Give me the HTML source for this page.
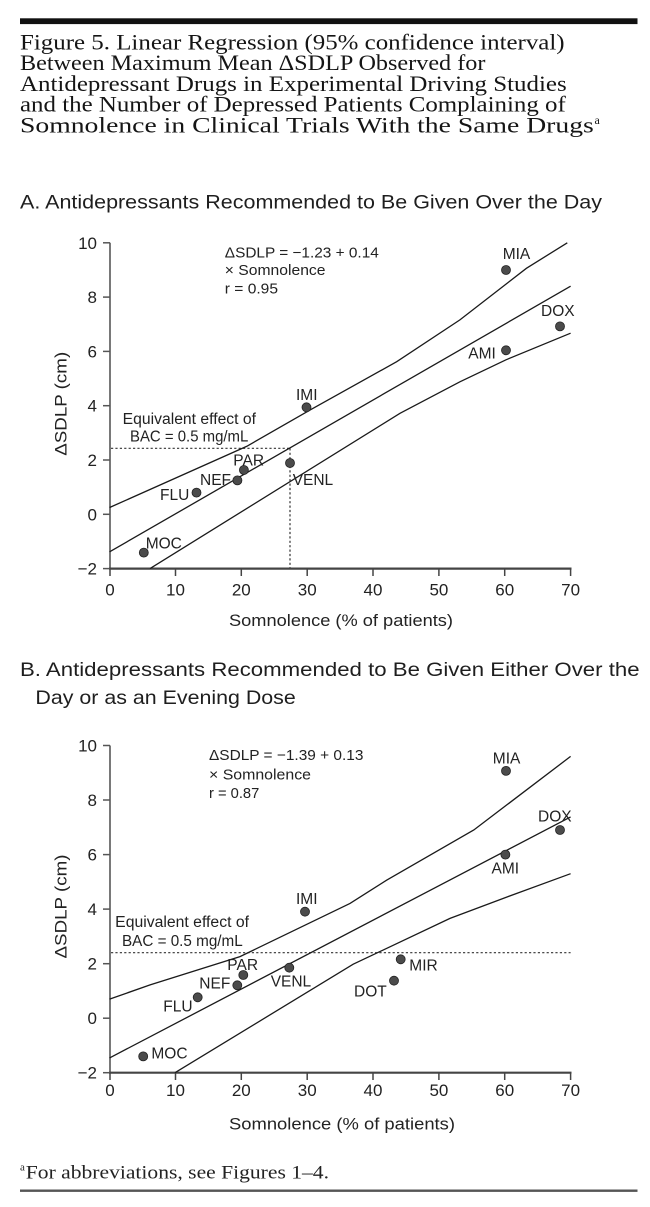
<!DOCTYPE html>
<html>
<head>
<meta charset="utf-8">
<style>
html,body{margin:0;padding:0;background:#fff;}
svg{display:block;}
.ttl{font-family:"Liberation Serif","Times New Roman",serif;font-size:22px;fill:#151515;}
.sub{font-family:"Liberation Sans",Arial,sans-serif;font-size:19.5px;fill:#1e1e1e;}
.ax{font-family:"Liberation Sans",Arial,sans-serif;font-size:17px;fill:#222;}
.lb{font-family:"Liberation Sans",Arial,sans-serif;font-size:15.5px;fill:#222;}
.eq{font-family:"Liberation Sans",Arial,sans-serif;font-size:15px;fill:#222;}
.fn{font-family:"Liberation Serif","Times New Roman",serif;font-size:19px;fill:#222;}
.ci{fill:none;stroke:#1a1a1a;stroke-width:1.3;}
.dot{fill:#4b4b4b;stroke:#222;stroke-width:0.8;}
.dash{fill:none;stroke:#333;stroke-width:1.2;stroke-dasharray:2.2,2.2;}
</style>
</head>
<body>
<svg width="650" height="1207" viewBox="0 0 650 1207" xmlns="http://www.w3.org/2000/svg">
<rect width="650" height="1207" fill="#fff"/>

<!-- top rule -->
<rect x="20" y="18.3" width="617.5" height="5.8" fill="#111"/>

<!-- title -->
<text class="ttl" x="20" y="49.3" textLength="544.6" lengthAdjust="spacingAndGlyphs">Figure 5. Linear Regression (95% confidence interval)</text>
<text class="ttl" x="20" y="70" textLength="465.4" lengthAdjust="spacingAndGlyphs">Between Maximum Mean ΔSDLP Observed for</text>
<text class="ttl" x="20" y="91" textLength="546.7" lengthAdjust="spacingAndGlyphs">Antidepressant Drugs in Experimental Driving Studies</text>
<text class="ttl" x="20" y="111.7" textLength="545.8" lengthAdjust="spacingAndGlyphs">and the Number of Depressed Patients Complaining of</text>
<text class="ttl" x="20" y="132.7" textLength="573.8" lengthAdjust="spacingAndGlyphs">Somnolence in Clinical Trials With the Same Drugs</text>
<text class="ttl" x="594.5" y="124" style="font-size:12px">a</text>

<!-- subtitle A -->
<text class="sub" x="20" y="208.5" textLength="582" lengthAdjust="spacingAndGlyphs">A. Antidepressants Recommended to Be Given Over the Day</text>

<!-- ================= CHART A ================= -->
<g>
  <line x1="110" y1="242.8" x2="110" y2="569.5" stroke="#6a6a6a" stroke-width="1.8"/>
  <line x1="109" y1="568.6" x2="571.5" y2="568.6" stroke="#444" stroke-width="2.2"/>
  <g stroke="#555" stroke-width="1.5">
    <line x1="103" y1="568.6" x2="110" y2="568.6"/>
    <line x1="103" y1="514.3" x2="110" y2="514.3"/>
    <line x1="103" y1="460.0" x2="110" y2="460.0"/>
    <line x1="103" y1="405.7" x2="110" y2="405.7"/>
    <line x1="103" y1="351.4" x2="110" y2="351.4"/>
    <line x1="103" y1="297.1" x2="110" y2="297.1"/>
    <line x1="103" y1="242.8" x2="110" y2="242.8"/>
  </g>
  <g stroke="#444" stroke-width="1.5">
    <line x1="110" y1="568.6" x2="110" y2="576"/>
    <line x1="175.5" y1="568.6" x2="175.5" y2="576"/>
    <line x1="241.3" y1="568.6" x2="241.3" y2="576"/>
    <line x1="307.2" y1="568.6" x2="307.2" y2="576"/>
    <line x1="373" y1="568.6" x2="373" y2="576"/>
    <line x1="438.9" y1="568.6" x2="438.9" y2="576"/>
    <line x1="504.7" y1="568.6" x2="504.7" y2="576"/>
    <line x1="570.6" y1="568.6" x2="570.6" y2="576"/>
  </g>
  <g class="ax" text-anchor="end">
    <text x="97" y="574.6">−2</text>
    <text x="97" y="520.3">0</text>
    <text x="97" y="466">2</text>
    <text x="97" y="411.7">4</text>
    <text x="97" y="357.4">6</text>
    <text x="97" y="303.1">8</text>
    <text x="97" y="248.8">10</text>
  </g>
  <g class="ax" text-anchor="middle">
    <text x="110" y="595.5">0</text>
    <text x="175.5" y="595.5">10</text>
    <text x="241.3" y="595.5">20</text>
    <text x="307.2" y="595.5">30</text>
    <text x="373" y="595.5">40</text>
    <text x="438.9" y="595.5">50</text>
    <text x="504.7" y="595.5">60</text>
    <text x="570.6" y="595.5">70</text>
  </g>
  <text class="ax" x="229" y="626" textLength="224" lengthAdjust="spacingAndGlyphs">Somnolence (% of patients)</text>
  <text class="ax" transform="translate(66.5,403.8) rotate(-90)" text-anchor="middle" textLength="104" lengthAdjust="spacingAndGlyphs">ΔSDLP (cm)</text>

  <line class="dash" x1="111" y1="448.3" x2="290" y2="448.3"/>
  <line class="dash" x1="290" y1="448.3" x2="290" y2="568"/>

  <polyline class="ci" points="109.6,551.8 570.6,286.2"/>
  <polyline class="ci" points="109.6,507.5 246.6,446.4 310.4,409.8 396.7,361.7 459.9,319.9 526.4,268.3 567.3,242.8"/>
  <polyline class="ci" points="150,568.6 400,413.3 459.9,381.8 506,359.8 570.6,333.2"/>

  <circle class="dot" cx="506" cy="270" r="4.5"/>
  <circle class="dot" cx="560" cy="326.4" r="4.5"/>
  <circle class="dot" cx="506" cy="350.3" r="4.5"/>
  <circle class="dot" cx="306.5" cy="407.3" r="4.5"/>
  <circle class="dot" cx="243.9" cy="470" r="4.5"/>
  <circle class="dot" cx="237.4" cy="480.4" r="4.5"/>
  <circle class="dot" cx="290" cy="463" r="4.5"/>
  <circle class="dot" cx="196.5" cy="492.6" r="4.5"/>
  <circle class="dot" cx="143.8" cy="552.6" r="4.5"/>

  <g class="lb">
    <text x="502.7" y="259">MIA</text>
    <text x="541" y="316">DOX</text>
    <text x="468.3" y="358.3">AMI</text>
    <text x="296" y="400">IMI</text>
    <text x="233.3" y="465.7">PAR</text>
    <text x="200" y="485">NEF</text>
    <text x="292.7" y="485">VENL</text>
    <text x="160" y="500">FLU</text>
    <text x="145.7" y="548.3">MOC</text>
  </g>

  <text class="eq" x="224.8" y="257.3" textLength="154" lengthAdjust="spacingAndGlyphs">ΔSDLP = −1.23 + 0.14</text>
  <text class="eq" x="224.8" y="275" textLength="100.7" lengthAdjust="spacingAndGlyphs">× Somnolence</text>
  <text class="eq" x="224.8" y="293.3" textLength="53.2" lengthAdjust="spacingAndGlyphs">r = 0.95</text>

  <text class="lb" x="122.7" y="424" textLength="133.3" lengthAdjust="spacingAndGlyphs">Equivalent effect of</text>
  <text class="lb" x="130" y="441.7" textLength="118.3" lengthAdjust="spacingAndGlyphs">BAC = 0.5 mg/mL</text>
</g>

<!-- subtitle B -->
<text class="sub" x="20" y="676" textLength="619.6" lengthAdjust="spacingAndGlyphs">B. Antidepressants Recommended to Be Given Either Over the</text>
<text class="sub" x="35.4" y="704" textLength="260.4" lengthAdjust="spacingAndGlyphs">Day or as an Evening Dose</text>

<!-- ================= CHART B ================= -->
<g>
  <line x1="110" y1="745.5" x2="110" y2="1073.6" stroke="#6a6a6a" stroke-width="1.8"/>
  <line x1="109" y1="1072.7" x2="571.5" y2="1072.7" stroke="#444" stroke-width="2.2"/>
  <g stroke="#555" stroke-width="1.5">
    <line x1="103" y1="1072.7" x2="110" y2="1072.7"/>
    <line x1="103" y1="1018.2" x2="110" y2="1018.2"/>
    <line x1="103" y1="963.7" x2="110" y2="963.7"/>
    <line x1="103" y1="909.1" x2="110" y2="909.1"/>
    <line x1="103" y1="854.6" x2="110" y2="854.6"/>
    <line x1="103" y1="800.0" x2="110" y2="800.0"/>
    <line x1="103" y1="745.5" x2="110" y2="745.5"/>
  </g>
  <g stroke="#444" stroke-width="1.5">
    <line x1="110" y1="1072.7" x2="110" y2="1080"/>
    <line x1="175.5" y1="1072.7" x2="175.5" y2="1080"/>
    <line x1="241.3" y1="1072.7" x2="241.3" y2="1080"/>
    <line x1="307.2" y1="1072.7" x2="307.2" y2="1080"/>
    <line x1="373" y1="1072.7" x2="373" y2="1080"/>
    <line x1="438.9" y1="1072.7" x2="438.9" y2="1080"/>
    <line x1="504.7" y1="1072.7" x2="504.7" y2="1080"/>
    <line x1="570.6" y1="1072.7" x2="570.6" y2="1080"/>
  </g>
  <g class="ax" text-anchor="end">
    <text x="97" y="1078.7">−2</text>
    <text x="97" y="1024.2">0</text>
    <text x="97" y="969.7">2</text>
    <text x="97" y="915.1">4</text>
    <text x="97" y="860.6">6</text>
    <text x="97" y="806">8</text>
    <text x="97" y="751.5">10</text>
  </g>
  <g class="ax" text-anchor="middle">
    <text x="110" y="1096">0</text>
    <text x="175.5" y="1096">10</text>
    <text x="241.3" y="1096">20</text>
    <text x="307.2" y="1096">30</text>
    <text x="373" y="1096">40</text>
    <text x="438.9" y="1096">50</text>
    <text x="504.7" y="1096">60</text>
    <text x="570.6" y="1096">70</text>
  </g>
  <text class="ax" x="229" y="1129.5" textLength="226" lengthAdjust="spacingAndGlyphs">Somnolence (% of patients)</text>
  <text class="ax" transform="translate(66.5,906.5) rotate(-90)" text-anchor="middle" textLength="104" lengthAdjust="spacingAndGlyphs">ΔSDLP (cm)</text>

  <line class="dash" x1="111" y1="952.7" x2="570.6" y2="952.7"/>

  <polyline class="ci" points="109.6,1057.9 570.6,816.9"/>
  <polyline class="ci" points="109.6,999.1 150.1,984.9 240,956.6 350,903.4 386.6,880.2 473.8,830 570.6,756.4"/>
  <polyline class="ci" points="175,1072.7 353.2,964.2 450,918.4 508,896.6 570.6,873.7"/>

  <circle class="dot" cx="506" cy="770.9" r="4.5"/>
  <circle class="dot" cx="560" cy="830" r="4.5"/>
  <circle class="dot" cx="505.4" cy="854.6" r="4.5"/>
  <circle class="dot" cx="305" cy="911.7" r="4.5"/>
  <circle class="dot" cx="243.3" cy="975" r="4.5"/>
  <circle class="dot" cx="237.3" cy="985.3" r="4.5"/>
  <circle class="dot" cx="289.3" cy="967.7" r="4.5"/>
  <circle class="dot" cx="197.7" cy="997.3" r="4.5"/>
  <circle class="dot" cx="143.2" cy="1056.4" r="4.5"/>
  <circle class="dot" cx="400.7" cy="959.3" r="4.5"/>
  <circle class="dot" cx="394" cy="980.7" r="4.5"/>

  <g class="lb">
    <text x="492.8" y="763.5">MIA</text>
    <text x="538" y="821.7">DOX</text>
    <text x="491.5" y="873.3">AMI</text>
    <text x="296" y="904">IMI</text>
    <text x="227.3" y="970">PAR</text>
    <text x="199.3" y="988.3">NEF</text>
    <text x="270.7" y="986.7">VENL</text>
    <text x="163.3" y="1011.7">FLU</text>
    <text x="151.4" y="1058.3">MOC</text>
    <text x="409.3" y="970.7">MIR</text>
    <text x="354" y="996.7">DOT</text>
  </g>

  <text class="eq" x="209" y="760" textLength="154.4" lengthAdjust="spacingAndGlyphs">ΔSDLP = −1.39 + 0.13</text>
  <text class="eq" x="209" y="779.5" textLength="102" lengthAdjust="spacingAndGlyphs">× Somnolence</text>
  <text class="eq" x="209" y="798" textLength="50.3" lengthAdjust="spacingAndGlyphs">r = 0.87</text>

  <text class="lb" x="115.2" y="927" textLength="133.8" lengthAdjust="spacingAndGlyphs">Equivalent effect of</text>
  <text class="lb" x="122" y="946" textLength="120.7" lengthAdjust="spacingAndGlyphs">BAC = 0.5 mg/mL</text>
</g>

<!-- footnote -->
<text class="fn" x="20" y="1170.5" style="font-size:11px">a</text>
<text class="fn" x="25.8" y="1178.5" textLength="303.2" lengthAdjust="spacingAndGlyphs">For abbreviations, see Figures 1–4.</text>
<rect x="20" y="1189.5" width="617.5" height="2.4" fill="#555"/>
</svg>
</body>
</html>
